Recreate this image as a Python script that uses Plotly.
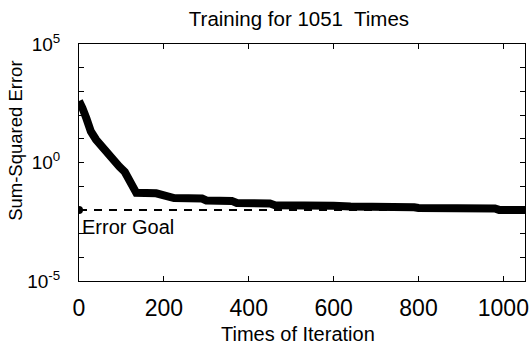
import plotly.graph_objects as go

# Training record: epoch -> sum-squared error
epochs = [0, 2, 8, 17, 28, 40, 53, 67, 82, 95, 108, 118, 127, 135, 182, 201,
          214, 224, 290, 300, 360, 372, 450, 462, 600, 640, 790, 800, 980,
          990, 1051]
sse = [398, 355, 200, 75.9, 20.4, 9.33, 4.68, 2.24, 1.10, 0.676, 0.398, 0.200,
       0.115, 0.0525, 0.050, 0.0437, 0.0355, 0.0316, 0.0302, 0.0251, 0.0240,
       0.0195, 0.0186, 0.0158, 0.0151, 0.0138, 0.0129, 0.0120, 0.0115,
       0.0100, 0.0099]

error_goal = 0.01
total_epochs = 1051

x_ticks = [0, 200, 400, 600, 800, 1000]
y_decades = list(range(-5, 6))
y_labels = {-5: "10<sup>-5</sup>", 0: "10<sup>0</sup>", 5: "10<sup>5</sup>"}

FONT = "Liberation Sans, Arial, sans-serif"

fig = go.Figure()

# error goal: dashed horizontal line with a dot at the start
fig.add_trace(go.Scatter(
    x=[0, total_epochs], y=[error_goal, error_goal], mode="lines",
    line=dict(color="black", width=2, dash="8px,7px"), hoverinfo="skip"))
fig.add_trace(go.Scatter(
    x=[0], y=[error_goal], mode="markers",
    marker=dict(color="black", size=8), hoverinfo="skip"))

# training curve
fig.add_trace(go.Scatter(
    x=epochs, y=sse, mode="lines",
    line=dict(color="black", width=8), hoverinfo="skip"))

fig.add_annotation(x=0, y=-2, xref="x", yref="y", text="Error Goal",
                   showarrow=False, xanchor="left", yanchor="middle",
                   xshift=1, yshift=-17,
                   font=dict(family=FONT, size=20, color="black"))

# axis titles
fig.add_annotation(x=0.49, y=-0.225, xref="paper", yref="paper",
                   text="Times of Iteration", showarrow=False,
                   xanchor="center", yanchor="middle",
                   font=dict(family=FONT, size=20, color="black"))
fig.add_annotation(x=-0.142, y=0.59, xref="paper", yref="paper",
                   text="Sum-Squared Error", showarrow=False, textangle=-90,
                   xanchor="center", yanchor="middle",
                   font=dict(family=FONT, size=18.5, color="black"))

fig.update_layout(
    width=531, height=345,
    margin=dict(l=79, r=2, t=44, b=64),
    paper_bgcolor="white", plot_bgcolor="white",
    showlegend=False,
    font=dict(family=FONT, color="black"),
    title=dict(text=f"Training for {total_epochs}  Times", x=0.563, xanchor="center",
               y=0.945, yanchor="middle",
               font=dict(family=FONT, size=20.5, color="black")),
)

fig.update_xaxes(
    range=[0, total_epochs], tickvals=x_ticks,
    ticktext=[str(v) for v in x_ticks],
    ticks="inside", ticklen=5, tickwidth=1, tickcolor="black",
    showline=True, linecolor="black", linewidth=1, mirror="ticks",
    showgrid=False, zeroline=False,
    tickfont=dict(family=FONT, size=23, color="black"),
    ticklabelstandoff=6, ticklabeloverflow="allow",
)

fig.update_yaxes(
    type="log", range=[-5, 5],
    tickvals=[10 ** k for k in y_decades],
    ticktext=[y_labels.get(k, "") for k in y_decades],
    ticks="inside", ticklen=5, tickwidth=1, tickcolor="black",
    showline=True, linecolor="black", linewidth=1, mirror="ticks",
    showgrid=False, zeroline=False,
    tickfont=dict(family=FONT, size=19, color="black"),
    ticklabelstandoff=14,
)

fig.write_html("out.html")
